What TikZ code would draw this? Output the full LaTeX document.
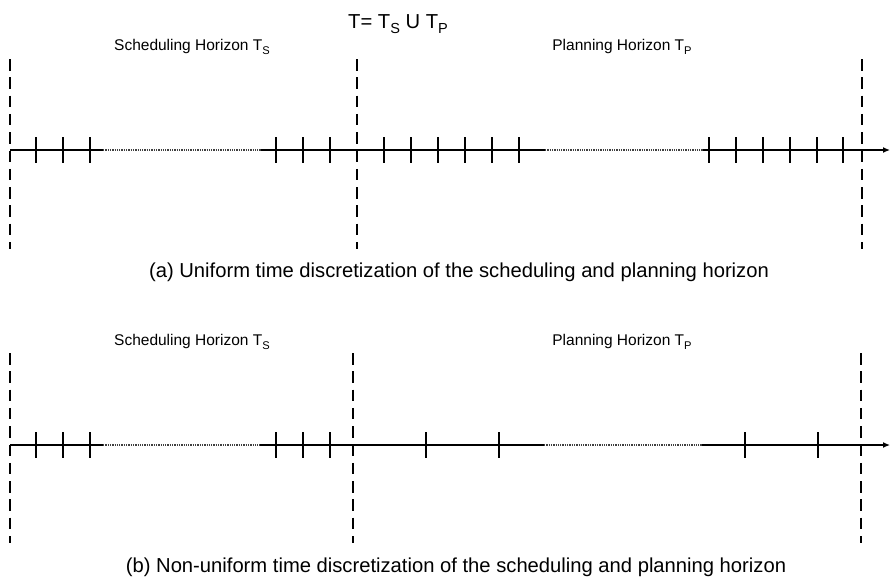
\documentclass[tikz,border=0pt]{standalone}
\usepackage{fontspec}
\usepackage{graphicx}
\setmainfont{Liberation Sans}
\usetikzlibrary{arrows.meta}
\newcommand\lowsub[1]{\raisebox{-0.28em}{\scalebox{0.72}{#1}}}
\begin{document}
\begin{tikzpicture}[x=1pt,y=-1pt,
  axis/.style={line width=1.8pt},
  thinaxis/.style={line width=1.3pt},
  dots/.style={line width=1.3pt, black!75, dash pattern=on 1.3pt off 1pt},
  tickmark/.style={line width=1.6pt},
  bound/.style={line width=1.6pt, dash pattern=on 11.5pt off 6.8pt},
  lbl/.style={font=\fontsize{15.5}{18}\selectfont, anchor=base, inner sep=0pt},
  captext/.style={font=\fontsize{20.2}{23}\selectfont, anchor=base, inner sep=0pt}]
\useasboundingbox (0,0) rectangle (891,584);

% title
\node[captext] (title) at (398,28) {T= T\lowsub{S} U T\lowsub{P}};

% ---------- panel (a) ----------
\node[lbl] (aS) at (192,50) {Scheduling Horizon T\lowsub{S}};
\node[lbl] (aP) at (622,50) {Planning Horizon T\lowsub{P}};
\coordinate (a0) at (10,150);
\coordinate (a1) at (103,150);
\coordinate (a2) at (261,150);
\coordinate (a3) at (545,150);
\coordinate (a4) at (703,150);
\coordinate (a5) at (890,150);
\draw[axis] (a0) -- (a1);
\draw[dots] (a1) -- (a2);
\draw[axis] (a2) -- (a3);
\draw[dots] (a3) -- (a4);
\draw[thinaxis,-{Latex[length=7pt,width=6pt]}] (a4) -- (a5);
\foreach \x in {36,63,90,276,303,330,384,411,438,465,492,519,709,736,763,790,817,843}
  \draw[tickmark] (\x,137) -- (\x,163);
\foreach \x in {10,357,862}
  \draw[bound] (\x,59) -- (\x,249);
\node[captext] (capa) at (459,277) {(a) Uniform time discretization of the scheduling and planning horizon};

% ---------- panel (b) ----------
\node[lbl] (bS) at (192,345) {Scheduling Horizon T\lowsub{S}};
\node[lbl] (bP) at (622,345) {Planning Horizon T\lowsub{P}};
\coordinate (b0) at (10,445);
\coordinate (b1) at (103,445);
\coordinate (b2) at (260,445);
\coordinate (b3) at (544,445);
\coordinate (b4) at (702,445);
\coordinate (b5) at (890,445);
\draw[axis] (b0) -- (b1);
\draw[dots] (b1) -- (b2);
\draw[axis] (b2) -- (b3);
\draw[dots] (b3) -- (b4);
\draw[thinaxis,-{Latex[length=7pt,width=6pt]}] (b4) -- (b5);
\foreach \x in {36,63,90,276,303,330,426,499,745,818}
  \draw[tickmark] (\x,432) -- (\x,458);
\foreach \x in {10,353,861}
  \draw[bound] (\x,353) -- (\x,543);
\node[captext] (capb) at (456,572) {(b) Non-uniform time discretization of the scheduling and planning horizon};
\end{tikzpicture}
\end{document}
